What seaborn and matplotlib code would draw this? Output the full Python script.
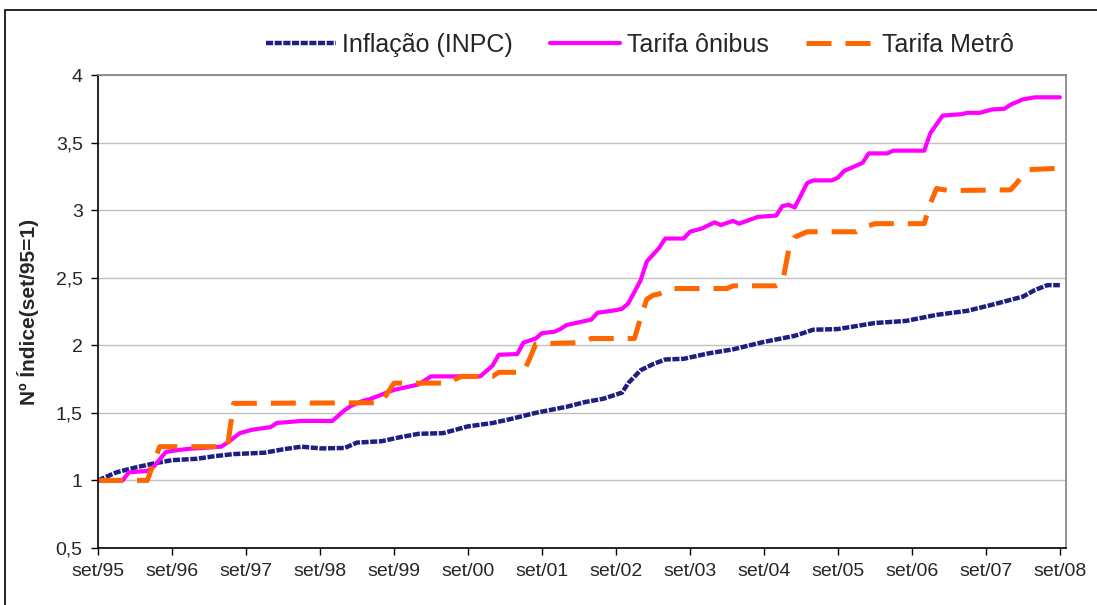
#!/usr/bin/env python3

import pandas as pd
import seaborn as sns
import matplotlib
matplotlib.use("Agg")
import matplotlib.pyplot as plt
from matplotlib.patches import Rectangle

# months counted from set/95 (0) to set/08 (156)
inpc_month = [0, 3, 6, 9, 12, 16, 19, 22, 27, 30, 33, 36, 40, 42, 46, 49, 52, 56,
              60, 64, 67, 71, 76, 79, 82, 85, 86, 88, 90, 92, 95, 99, 103, 108,
              113, 116, 120, 126, 131, 136, 141, 145, 150, 152, 154, 156]
inpc_value = [1.00, 1.06, 1.095, 1.125, 1.15, 1.16, 1.18, 1.195, 1.205, 1.23, 1.25,
              1.237, 1.24, 1.28, 1.29, 1.32, 1.345, 1.35, 1.40, 1.425, 1.455, 1.50,
              1.545, 1.58, 1.605, 1.65, 1.72, 1.815, 1.86, 1.895, 1.90, 1.94, 1.97,
              2.025, 2.07, 2.115, 2.12, 2.165, 2.18, 2.225, 2.255, 2.30, 2.36, 2.41,
              2.445, 2.445]

onibus_month = [0, 4, 5, 8, 9, 11, 13, 15, 17, 20, 21, 23, 25, 28, 29, 33, 38, 40,
                41, 43, 44, 46, 48, 50, 52, 53, 54, 62, 64, 65, 68, 69, 71, 72, 74,
                75, 76, 79, 80, 81, 84, 85, 86, 88, 89, 91, 92, 95, 96, 98, 100,
                101, 103, 104, 107, 110, 111, 112, 113, 115, 116, 119, 120, 121,
                123, 124, 125, 128, 129, 134, 135, 137, 140, 141, 143, 145, 147,
                148, 150, 152, 156]
onibus_value = [1.00, 1.00, 1.06, 1.07, 1.10, 1.21, 1.225, 1.235, 1.24, 1.25, 1.28,
                1.35, 1.375, 1.395, 1.425, 1.44, 1.44, 1.52, 1.55, 1.59, 1.60, 1.635,
                1.67, 1.69, 1.71, 1.74, 1.77, 1.77, 1.85, 1.93, 1.935, 2.02, 2.05,
                2.09, 2.10, 2.12, 2.15, 2.18, 2.19, 2.24, 2.26, 2.27, 2.31, 2.48,
                2.62, 2.72, 2.79, 2.79, 2.84, 2.865, 2.91, 2.89, 2.92, 2.90, 2.95,
                2.96, 3.03, 3.04, 3.02, 3.20, 3.22, 3.22, 3.24, 3.29, 3.33, 3.35,
                3.42, 3.42, 3.44, 3.44, 3.57, 3.70, 3.71, 3.72, 3.72, 3.745, 3.75,
                3.78, 3.82, 3.835, 3.835]

metro_month = [0, 8, 10, 21, 22, 46, 47, 48, 57, 58, 59, 64, 65, 69, 70, 71, 78,
               80, 87, 88, 89, 90, 91, 93, 102, 103, 110, 111, 112, 113, 115, 123,
               124, 126, 134, 135, 136, 138, 148, 149, 150, 151, 156]
metro_value = [1.00, 1.00, 1.25, 1.25, 1.57, 1.575, 1.65, 1.72, 1.72, 1.75, 1.77,
               1.77, 1.80, 1.80, 1.90, 2.01, 2.02, 2.05, 2.05, 2.20, 2.34, 2.37,
               2.38, 2.42, 2.42, 2.44, 2.44, 2.46, 2.70, 2.80, 2.84, 2.84, 2.87,
               2.90, 2.90, 3.05, 3.16, 3.145, 3.15, 3.20, 3.26, 3.30, 3.31]

tick_labels = ["set/95", "set/96", "set/97", "set/98", "set/99", "set/00", "set/01",
               "set/02", "set/03", "set/04", "set/05", "set/06", "set/07", "set/08"]
y_ticks = [0.5, 1, 1.5, 2, 2.5, 3, 3.5, 4]

sns.set_theme(style="white")
plt.rcParams["font.family"] = ["Liberation Sans", "DejaVu Sans"]

fig = plt.figure(figsize=(10.97, 6.05), dpi=100)
ax = fig.add_axes([98 / 1097, 1 - 548 / 605, (1066 - 98) / 1097, (548 - 75) / 605])

inpc = pd.DataFrame({"mes": inpc_month, "indice": inpc_value})
onibus = pd.DataFrame({"mes": onibus_month, "indice": onibus_value})
metro = pd.DataFrame({"mes": metro_month, "indice": metro_value})

sns.lineplot(data=inpc, x="mes", y="indice", ax=ax, color="#1f1f80", lw=3.2,
             linestyle=(0, (1.6, 0.35)), label="Inflação (INPC)", errorbar=None)
sns.lineplot(data=onibus, x="mes", y="indice", ax=ax, color="#ff00ff", lw=3.0,
             label="Tarifa ônibus", errorbar=None)
sns.lineplot(data=metro, x="mes", y="indice", ax=ax, color="#ff6600", lw=3.6,
             linestyle=(0, (5, 2.8)), label="Tarifa Metrô", errorbar=None)

ax.set_xlim(0, 157)
ax.set_ylim(0.5, 4)
ax.set_xticks(range(0, 157, 12))
ax.set_xticklabels(tick_labels, fontsize=14)
ax.set_yticks(y_ticks)
ax.set_yticklabels([f"{v:g}".replace(".", ",") for v in y_ticks], fontsize=14)
ax.tick_params(axis="both", direction="out", length=5, width=1, color="black",
               bottom=True, left=True, pad=6)
ax.grid(axis="y", color="#c0c0c0", lw=1)
ax.grid(axis="x", visible=False)
for side in ["left", "bottom"]:
    ax.spines[side].set_color("black")
    ax.spines[side].set_linewidth(1.2)
for side in ["top", "right"]:
    ax.spines[side].set_color("#808080")
    ax.spines[side].set_linewidth(1.2)

ax.set_xlabel("")
ax.set_ylabel("Nº Índice(set/95=1)", fontsize=15, fontweight="bold", labelpad=12)

ax.legend(loc="center", bbox_to_anchor=(640 / 1097, 1 - 45 / 605),
          bbox_transform=fig.transFigure, ncol=3, frameon=False, fontsize=18,
          handlelength=2.8, handletextpad=0.25, columnspacing=1.5)

# outer chart frame (only top and left edges are inside the picture)
fig.add_artist(Rectangle((5 / 1097, -0.1), 1.2, 1.1 - 10 / 605,
                         transform=fig.transFigure, fill=False,
                         edgecolor="black", lw=1.2))

fig.savefig("out.png", dpi=100)
